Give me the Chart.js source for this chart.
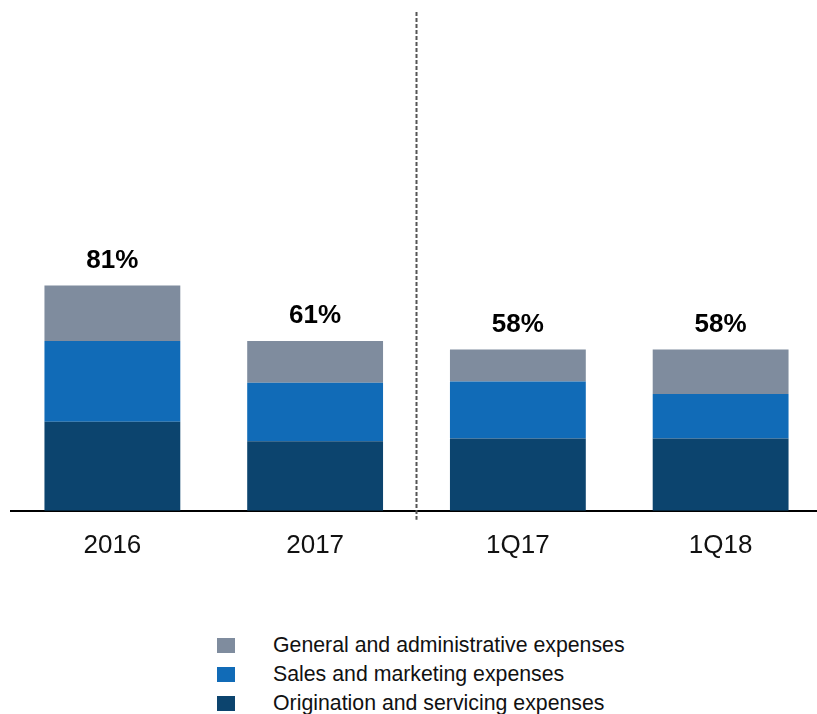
<!DOCTYPE html>
<html lang="en">
<head>
    <meta charset="UTF-8">
    <title>Operating expenses as % of revenue</title>
    <style>
        body {
            margin: 0;
            background: #FFFFFF;
            font-family: 'Liberation Sans', Arial, sans-serif;
            overflow: hidden;
        }
        .chart-wrap {
            position: absolute;
            left: 0;
            top: 0;
            width: 822px;
            height: 580px;
        }
        .legend {
            position: absolute;
            left: 217px;
            top: 631px;
            font-size: 21.3px;
            color: #111;
        }
        .legend-row {
            display: flex;
            align-items: center;
            height: 29px;
        }
        .legend-box {
            width: 18px;
            height: 15px;
            margin-right: 38px;
        }
    </style>
    <script src="https://cdn.jsdelivr.net/npm/chart.js@4.4.0/dist/chart.umd.min.js"></script>
</head>
<body>
    <div class="chart-wrap">
        <canvas id="expenseChart"></canvas>
    </div>
    <div class="legend" id="legend"></div>

    <script>
        const categories = ['2016', '2017', '1Q17', '1Q18'];
        const originationServicing = [32, 25, 26, 26];
        const salesMarketing = [29, 21, 20.5, 16];
        const generalAdmin = [20, 15, 11.5, 16];
        const totalLabels = ['81%', '61%', '58%', '58%'];

        const colors = {
            orig: '#0C446E',
            sales: '#116BB7',
            admin: '#7F8C9E'
        };

        // labels above each stack
        const totalsPlugin = {
            id: 'totals',
            afterDatasetsDraw(chart) {
                const ctx = chart.ctx;
                const topMeta = chart.getDatasetMeta(chart.data.datasets.length - 1);
                ctx.save();
                ctx.font = 'bold 26px "Liberation Sans", Arial, sans-serif';
                ctx.fillStyle = '#000';
                ctx.textAlign = 'center';
                ctx.textBaseline = 'middle';
                topMeta.data.forEach((bar, i) => {
                    ctx.fillText(totalLabels[i], bar.x, bar.y - 25);
                });
                ctx.restore();
            }
        };

        // dashed separator between annual and quarterly
        const separatorPlugin = {
            id: 'separator',
            afterDraw(chart) {
                const x = chart.scales.x;
                const xPos = (x.getPixelForValue(1) + x.getPixelForValue(2)) / 2;
                const ctx = chart.ctx;
                ctx.save();
                ctx.strokeStyle = '#555';
                ctx.lineWidth = 2;
                ctx.setLineDash([4, 2]);
                ctx.beginPath();
                ctx.moveTo(xPos, chart.chartArea.top + 2);
                ctx.lineTo(xPos, chart.chartArea.bottom + 9);
                ctx.stroke();
                ctx.restore();
            }
        };

        const datasets = [
            { label: 'Origination and servicing expenses', data: originationServicing, backgroundColor: colors.orig },
            { label: 'Sales and marketing expenses', data: salesMarketing, backgroundColor: colors.sales },
            { label: 'General and administrative expenses', data: generalAdmin, backgroundColor: colors.admin }
        ];

        new Chart(document.getElementById('expenseChart'), {
            type: 'bar',
            data: {
                labels: categories,
                datasets: datasets.map(d => Object.assign({
                    barPercentage: 0.67,
                    categoryPercentage: 1,
                    borderWidth: 0
                }, d))
            },
            options: {
                responsive: true,
                maintainAspectRatio: false,
                animation: false,
                layout: { padding: { top: 10, left: 11, right: 0, bottom: 0 } },
                plugins: {
                    legend: { display: false },
                    tooltip: { enabled: false }
                },
                scales: {
                    x: {
                        stacked: true,
                        grid: { display: false, drawTicks: false },
                        border: { display: true, color: '#000', width: 2 },
                        ticks: {
                            color: '#111',
                            font: { size: 26, family: '"Liberation Sans", Arial, sans-serif' },
                            padding: 19
                        }
                    },
                    y: {
                        stacked: true,
                        display: false,
                        min: 0,
                        max: 180
                    }
                }
            },
            plugins: [totalsPlugin, separatorPlugin]
        });

        // legend, top entry first
        const legendEl = document.getElementById('legend');
        datasets.slice().reverse().forEach(d => {
            const row = document.createElement('div');
            row.className = 'legend-row';
            row.innerHTML = `<span class="legend-box" style="background:${d.backgroundColor}"></span><span>${d.label}</span>`;
            legendEl.appendChild(row);
        });
    </script>
</body>
</html>
